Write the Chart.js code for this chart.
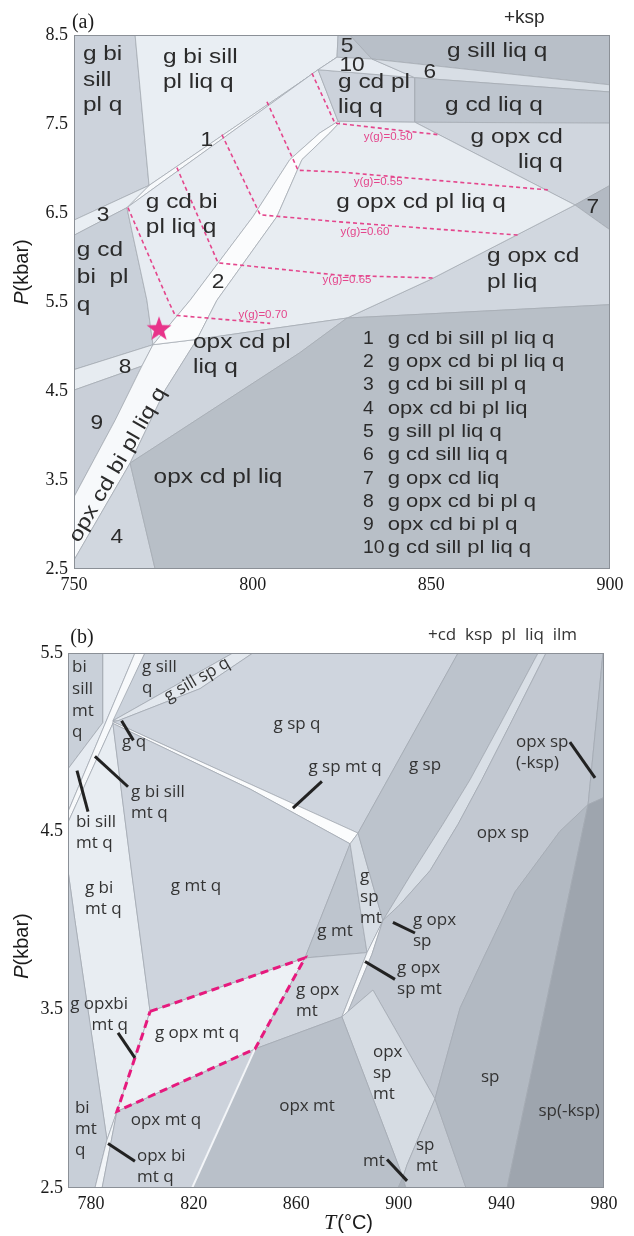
<!DOCTYPE html>
<html lang="en">
<head>
<meta charset="UTF-8">
<title>P-T pseudosections (a) and (b)</title>
<script src="https://cdn.jsdelivr.net/npm/chart.js"></script>
<style>
  html, body { margin: 0; padding: 0; background: #fff; }
  #wrapA { position: absolute; left: 0; top: 0; width: 634px; height: 600px; }
  #wrapB { position: absolute; left: 0; top: 600px; width: 634px; height: 636px; }
</style>
</head>
<body>
<div id="wrapA"><canvas id="chartA" width="634" height="600"></canvas></div>
<div id="wrapB"><canvas id="chartB" width="634" height="636"></canvas></div>
<script>
// ---------- panel (a) : T (C) vs P (kbar) ----------
const aTempTicks = [750, 800, 850, 900];
const aPresTicks = [2.5, 3.5, 4.5, 5.5, 6.5, 7.5, 8.5];

// field outlines, [T, P]
const a_gBiSillPlQ    = [[750,8.5],[767.1,8.5],[771.0,6.81],[750,6.42]];
const a_gBiSillPlLiqQ = [[767.1,8.5],[823.9,8.5],[823.6,8.25],[771.0,6.81]];
const a_f1            = [[764.8,6.56],[771.0,6.81],[823.6,8.25],[818.3,8.11]];
const a_f3            = [[750,6.42],[771.0,6.81],[764.8,6.56],[750,6.25]];
const a_gCdBiPlQ      = [[750,6.25],[764.8,6.56],[770.4,5.52],[772.1,5.02],[750,4.74]];
const a_f8            = [[750,4.74],[772.1,5.02],[769.0,4.78],[750,4.51]];
const a_f9            = [[750,4.51],[769.0,4.78],[761.5,4.17],[750,3.31]];
const a_opxCdBiPlLiqQ = [[772.1,5.02],[784.4,5.08],[775.5,4.51],[765.7,3.69],[750,2.60],[750,3.31],[761.5,4.17],[769.0,4.78]];
const a_f4            = [[750,2.60],[765.7,3.69],[772.7,2.5],[750,2.5]];
const a_gCdBiPlLiqQ   = [[764.8,6.56],[818.3,8.11],[823.9,7.53],[818.8,7.40],[810.4,7.10],[800.1,6.46],[782.5,5.52],[772.1,5.02],[770.4,5.52]];
const a_f2            = [[772.1,5.02],[782.5,5.52],[800.1,6.46],[810.4,7.10],[818.8,7.40],[823.9,7.53],[824.4,7.52],[821.6,7.40],[813.8,7.10],[806.8,6.46],[790.0,5.52],[784.4,5.08]];
const a_gCdPlLiqQ     = [[818.3,8.11],[845.4,8.02],[845.4,7.52],[823.9,7.53]];
const a_f5            = [[823.9,8.5],[827.2,8.5],[833.4,8.23],[823.6,8.25]];
const a_f10           = [[823.6,8.25],[833.4,8.23],[845.4,8.02],[818.3,8.11]];
const a_gSillLiqQ     = [[827.2,8.5],[900,8.5],[900,7.94],[833.4,8.23]];
const a_f6            = [[833.4,8.23],[900,7.94],[900,7.86],[845.4,8.02]];
const a_gCdLiqQ       = [[845.4,8.02],[900,7.86],[900,7.51],[845.4,7.52]];
const a_gOpxCdLiqQ    = [[845.4,7.52],[900,7.51],[900,6.81],[890.2,6.59]];
const a_f7            = [[900,6.81],[890.2,6.59],[900,6.31]];
const a_gOpxCdPlLiq   = [[890.2,6.59],[900,6.31],[900,5.47],[826.4,5.32],[849.6,5.75]];
const a_gOpxCdPlLiqQ  = [[823.9,7.53],[845.4,7.52],[890.2,6.59],[849.6,5.75],[826.4,5.32],[784.4,5.08],[790.0,5.52],[806.8,6.46],[813.8,7.10],[821.6,7.40],[824.4,7.52]];
const a_opxCdPlLiqQ   = [[784.4,5.08],[826.4,5.32],[813.2,4.93],[765.7,3.69],[775.5,4.51]];
const a_opxCdPlLiq    = [[826.4,5.32],[900,5.47],[900,2.5],[772.7,2.5],[765.7,3.69],[813.2,4.93]];

// garnet isopleths y(g)
const aIso50 = [[816.6,8.07],[823.0,7.51],[851.9,7.38]];
const aIso55 = [[804.0,7.75],[812.7,6.98],[824.4,6.96],[882.6,6.76]];
const aIso60 = [[791.4,7.38],[802.1,6.48],[824.4,6.40],[874.8,6.25]];
const aIso65 = [[778.8,7.01],[790.3,5.94],[824.4,5.80],[850.5,5.77]];
const aIso70 = [[765.1,6.56],[776.3,5.52],[778.3,5.35],[804.9,5.26]];
const aStar  = [[773.8,5.21]];

const aIsoLabels = [['y(g)=0.50',837.9,7.35],['y(g)=0.55',835.1,6.84],['y(g)=0.60',831.4,6.28],['y(g)=0.65',826.4,5.75],['y(g)=0.70',802.9,5.35]];
const aLegendText = ['g cd bi sill pl liq q','g opx cd bi pl liq q','g cd bi sill pl q','opx cd bi pl liq','g sill pl liq q',
                     'g cd sill liq q','g opx cd liq','g opx cd bi pl q','opx cd bi pl q','g cd sill pl liq q'];

// ---------- panel (b) ----------
const bTempTicks = [780, 820, 860, 900, 940, 980];
const bPresTicks = [2.5, 3.5, 4.5, 5.5];

const b_biSillMtQ    = [[771,5.5],[784.6,5.5],[784.6,5.11],[771,4.85]];
const b_leftLight    = [[784.6,5.5],[797.1,5.5],[771,4.61],[771,4.85],[784.6,5.11]];
const b_gBiSillMtQ   = [[797.1,5.5],[801.0,5.5],[771,4.55],[771,4.61]];
const b_gSillQ       = [[801.0,5.5],[835.3,5.5],[788.5,5.12]];
const b_gSillSpQ     = [[788.5,5.12],[835.3,5.5],[843.1,5.5],[822.5,5.30],[790.5,5.12]];
const b_gSpQ         = [[790.5,5.12],[822.5,5.30],[843.1,5.5],[923.1,5.5],[884.1,4.49],[842.0,4.765],[788.5,5.115]];
const b_gSpMtQ       = [[788.5,5.115],[842.0,4.765],[884.1,4.49],[881.0,4.43],[842.0,4.737],[788.5,5.105]];
const b_gBiMtQ       = [[788.5,5.105],[796.0,4.25],[803.0,3.49],[797.1,3.23],[790.1,2.93],[786.2,2.77],[773.7,4.00],[771,4.28],[771,4.55]];
const b_gMtQ         = [[788.5,5.105],[842.0,4.737],[881.0,4.43],[863.4,3.79],[803.0,3.49],[796.0,4.25]];
const b_biMtQ        = [[771,4.28],[773.7,4.00],[786.2,2.77],[781.5,2.5],[771,2.5]];
const b_opxBiMtQ     = [[786.2,2.77],[790.1,2.93],[784.3,2.5],[781.5,2.5]];
const b_opxMtQ       = [[790.1,2.93],[843.9,3.28],[819.4,2.5],[784.3,2.5]];
const b_gOpxMtQ      = [[803.0,3.49],[863.4,3.79],[843.9,3.28],[790.1,2.93],[797.1,3.23]];
const b_gMt          = [[881.0,4.43],[887.6,3.82],[863.4,3.79]];
const b_gSpMt        = [[881.0,4.43],[884.1,4.49],[893.8,4.00],[887.6,3.82]];
const b_gOpxMt       = [[863.4,3.79],[887.6,3.82],[877.8,3.46],[843.9,3.28]];
const b_gOpxSpMt     = [[893.8,4.00],[889.5,3.81],[880.2,3.49],[877.8,3.46],[887.6,3.82]];
const b_gSp          = [[923.1,5.5],[954.3,5.5],[939.5,5.10],[927.8,4.79],[917.2,4.54],[904.4,4.25],[893.8,4.00],[884.1,4.49]];
const b_gOpxSp       = [[954.3,5.5],[957.4,5.5],[943.4,5.10],[932.4,4.79],[923.1,4.54],[912.2,4.28],[900.5,4.09],[893.8,4.00],[904.4,4.25],[917.2,4.54],[927.8,4.79],[939.5,5.10]];
const b_opxSp        = [[957.4,5.5],[979.6,5.5],[973.8,4.65],[962.8,4.50],[945.3,4.16],[931.7,3.75],[923.9,3.51],[914.1,3.00],[889.9,3.61],[880.2,3.49],[889.5,3.81],[893.8,4.00],[900.5,4.09],[912.2,4.28],[923.1,4.54],[932.4,4.79],[943.4,5.10]];
const b_opxSpMt      = [[877.8,3.46],[880.2,3.49],[889.9,3.61],[914.1,3.00],[903.2,2.63],[901.6,2.56]];
const b_opxMt        = [[843.9,3.28],[877.8,3.46],[901.6,2.56],[899.7,2.5],[819.4,2.5]];
const b_mt           = [[901.6,2.56],[902.8,2.5],[899.7,2.5]];
const b_spMt         = [[914.1,3.00],[926.2,2.5],[902.8,2.5],[901.6,2.56],[903.2,2.63]];
const b_sp           = [[973.8,4.65],[942.2,2.5],[926.2,2.5],[914.1,3.00],[923.9,3.51],[931.7,3.75],[945.3,4.16],[962.8,4.50]];
const b_opxSpNoKsp   = [[979.6,5.5],[980,5.5],[980,4.69],[973.8,4.65]];
const b_spNoKsp      = [[973.8,4.65],[980,4.69],[980,2.5],[942.2,2.5]];

const bWhiteEdge = [[843.9,3.28],[819.4,2.5]];
const bLeaders = [
  [[791.9,5.12],[796.5,5.01]], [[781.5,4.92],[794.4,4.75]], [[774.5,4.84],[778.8,4.61]],
  [[858.7,4.63],[870.0,4.78]], [[966.7,5.00],[976.5,4.80]], [[897.7,3.99],[906.3,3.93]],
  [[886.8,3.77],[898.5,3.67]], [[790.5,3.37],[797.1,3.23]], [[786.6,2.75],[797.1,2.65]],
  [[895.4,2.66],[903.2,2.54]]
];

// ---------- styling ----------
const aRegions = [
  [a_gBiSillPlQ,'#cdd3dc'],[a_gBiSillPlLiqQ,'#e9eef3'],[a_f1,'#f7f9fb'],[a_f3,'#e9eef3'],
  [a_gCdBiPlQ,'#c9d0d9'],[a_f8,'#e7ecf1'],[a_f9,'#c9cfd8'],[a_opxCdBiPlLiqQ,'#f7f9fb'],
  [a_f4,'#d1d7df'],[a_gCdBiPlLiqQ,'#e7ecf2'],[a_f2,'#fbfcfd'],[a_gCdPlLiqQ,'#ccd2db'],
  [a_f5,'#c2c9d2'],[a_f10,'#e6ebf1'],[a_gSillLiqQ,'#b8bfc8'],[a_f6,'#d8dee5'],
  [a_gCdLiqQ,'#bec5ce'],[a_gOpxCdLiqQ,'#d0d6de'],[a_f7,'#b3bac3'],[a_gOpxCdPlLiq,'#d1d7df'],
  [a_gOpxCdPlLiqQ,'#e8edf2'],[a_opxCdPlLiqQ,'#cfd5dd'],[a_opxCdPlLiq,'#b8bfc7']
];
const bRegions = [
  [b_biSillMtQ,'#c9d0d9'],[b_leftLight,'#e6ebf1'],[b_gBiSillMtQ,'#f7f9fb'],[b_gSillQ,'#ccd3dc'],
  [b_gSillSpQ,'#e3e8ee'],[b_gSpQ,'#cfd5de'],[b_gSpMtQ,'#fbfcfd'],[b_gBiMtQ,'#e8edf2'],
  [b_gMtQ,'#ced4dd'],[b_biMtQ,'#c8cfd8'],[b_opxBiMtQ,'#f2f5f8'],[b_opxMtQ,'#ccd2db'],
  [b_gOpxMtQ,'#edf1f5'],[b_gMt,'#bec5ce'],[b_gSpMt,'#d8dee5'],[b_gOpxMt,'#d0d6de'],
  [b_gOpxSpMt,'#f7f9fb'],[b_gSp,'#bcc3cc'],[b_gOpxSp,'#d9dfe6'],[b_opxSp,'#c2c8d1'],
  [b_opxSpMt,'#d6dce3'],[b_opxMt,'#b9c0c9'],[b_mt,'#aab1ba'],[b_spMt,'#c5cbd3'],
  [b_sp,'#b2b9c2'],[b_opxSpNoKsp,'#b8bfc8'],[b_spNoKsp,'#9ea5ae']
];

const aLabels = [
  {t:'g bi|sill|pl q', x:752.5, y:8.28, al:'left'},
  {t:'g bi sill|pl liq q', x:774.9, y:8.25, al:'left'},
  {t:'g cd bi|pl liq q', x:770.1, y:6.62, al:'left'},
  {t:'g cd|bi  pl|q', x:750.8, y:6.08, al:'left', lh:27.5},
  {t:'g cd pl|liq q', x:823.9, y:7.97, al:'left'},
  {t:'g sill liq q', x:868.4, y:8.31, al:'center'},
  {t:'g cd liq q', x:867.5, y:7.71, al:'center'},
  {t:'g opx cd|liq q', x:886.8, y:7.35, al:'right'},
  {t:'g opx cd pl liq q', x:847.1, y:6.62, al:'center'},
  {t:'g opx cd|pl liq', x:865.6, y:6.01, al:'left'},
  {t:'opx cd pl|liq q', x:783.3, y:5.05, al:'left'},
  {t:'opx cd pl liq', x:790.3, y:3.53, al:'center'},
  {t:'opx cd bi pl liq q', x:762.3, y:3.67, al:'center', rot:-60}
];
const aNumbers = [['1',787.2,7.32],['2',790.3,5.72],['3',758.1,6.47],['4',762.0,2.86],['5',826.4,8.37],
                  ['6',849.6,8.08],['7',895.2,6.57],['8',764.3,4.77],['9',756.4,4.14],['10',827.8,8.16]];

const bLabels = [
  {t:'bi|sill|mt|q', x:772.6, y:5.42, al:'left', lh:21.7},
  {t:'g sill|q', x:799.9, y:5.42, al:'left'},
  {t:'g sill sp q', x:821.3, y:5.35, al:'center', rot:-30},
  {t:'g q', x:792.1, y:5.00, al:'left'},
  {t:'g bi sill|mt q', x:795.6, y:4.72, al:'left'},
  {t:'bi sill|mt q', x:774.1, y:4.55, al:'left'},
  {t:'g sp q', x:860.3, y:5.10, al:'center'},
  {t:'g sp mt q', x:879.0, y:4.86, al:'center'},
  {t:'g sp', x:910.2, y:4.87, al:'center'},
  {t:'opx sp|(-ksp)', x:945.7, y:5.00, al:'left'},
  {t:'opx sp', x:940.6, y:4.49, al:'center'},
  {t:'g mt q', x:820.9, y:4.19, al:'center'},
  {t:'g bi|mt q', x:777.6, y:4.18, al:'left'},
  {t:'g|sp|mt', x:884.9, y:4.25, al:'left'},
  {t:'g mt', x:875.1, y:3.94, al:'center'},
  {t:'g opx|sp', x:905.5, y:4.00, al:'left'},
  {t:'g opx|sp mt', x:899.3, y:3.73, al:'left'},
  {t:'g opx|mt', x:859.9, y:3.61, al:'left'},
  {t:'g opxbi|mt q', x:794.4, y:3.53, al:'right'},
  {t:'g opx mt q', x:821.3, y:3.37, al:'center'},
  {t:'bi|mt|q', x:773.7, y:2.95, al:'left'},
  {t:'opx mt q', x:809.2, y:2.88, al:'center'},
  {t:'opx bi|mt q', x:797.9, y:2.68, al:'left'},
  {t:'opx mt', x:864.2, y:2.96, al:'center'},
  {t:'opx|sp|mt', x:889.9, y:3.26, al:'left'},
  {t:'sp', x:935.6, y:3.12, al:'center'},
  {t:'sp(-ksp)', x:966.4, y:2.93, al:'center'},
  {t:'sp|mt', x:906.7, y:2.74, al:'left'},
  {t:'mt', x:886.0, y:2.65, al:'left'}
];

// ---------- helpers ----------
const pts = arr => arr.map(([x, y]) => ({x, y}));

function regionSet(p, color, edge) {
  return { data: pts(p.concat([p[0]])), showLine: true, fill: 'shape', backgroundColor: color,
           borderColor: edge, borderWidth: 0.8, pointRadius: 0, pointHoverRadius: 0 };
}
function lineSet(p, color, width, dash) {
  return { data: pts(p), showLine: true, fill: false, borderColor: color, borderWidth: width,
           borderDash: dash || [], pointRadius: 0, pointHoverRadius: 0 };
}
function stacked(list) {
  list.forEach((d, i) => { d.order = list.length - i; });  // first item painted first
  return list;
}

function makeStar(size, color) {
  const c = document.createElement('canvas');
  c.width = c.height = size;
  const g = c.getContext('2d');
  const cx = size / 2, cy = size / 2 + size * 0.06, R = size / 2, r = R * 0.4;
  g.beginPath();
  for (let i = 0; i < 10; i++) {
    const ang = -Math.PI / 2 + i * Math.PI / 5, rad = i % 2 ? r : R;
    g.lineTo(cx + rad * Math.cos(ang), cy + rad * Math.sin(ang));
  }
  g.closePath();
  g.fillStyle = color;
  g.fill();
  return c;
}

function stretchText(ctx, str, x, y, align, sx) {
  ctx.save();
  ctx.translate(x, y);
  ctx.scale(sx, 1);
  ctx.textAlign = align;
  ctx.fillText(str, 0, 0);
  ctx.restore();
}

function drawLabels(ctx, chart, labels, font, sx, lh) {
  const xs = chart.scales.x, ys = chart.scales.y;
  ctx.font = font;
  ctx.textBaseline = 'middle';
  labels.forEach(l => {
    const px = xs.getPixelForValue(l.x), py = ys.getPixelForValue(l.y);
    const lines = l.t.split('|');
    if (l.rot) {
      ctx.save();
      ctx.translate(px, py);
      ctx.rotate(l.rot * Math.PI / 180);
      stretchText(ctx, l.t, 0, 0, 'center', sx);
      ctx.restore();
      return;
    }
    lines.forEach((s, i) => stretchText(ctx, s, px, py + i * (l.lh || lh), l.al, sx));
  });
}

function drawPTitle(ctx, cx, cy) {
  ctx.save();
  ctx.translate(cx, cy);
  ctx.rotate(-Math.PI / 2);
  ctx.textBaseline = 'middle';
  ctx.textAlign = 'left';
  ctx.font = 'italic 20px "Liberation Sans"';
  const w1 = ctx.measureText('P').width;
  ctx.font = '20px "Liberation Sans"';
  const w2 = ctx.measureText('(kbar)').width;
  const x0 = -(w1 + w2) / 2;
  ctx.font = 'italic 20px "Liberation Sans"';
  ctx.fillText('P', x0, 0);
  ctx.font = '20px "Liberation Sans"';
  ctx.fillText('(kbar)', x0 + w1, 0);
  ctx.restore();
}

function frame(ctx, a) {
  ctx.strokeStyle = '#8b9097';
  ctx.lineWidth = 1;
  ctx.strokeRect(a.left + 0.5, a.top + 0.5, a.right - a.left - 1, a.bottom - a.top - 1);
}

function baseOptions(c) {
  const tickFont = {family: 'Liberation Serif', size: 18};
  return {
    responsive: false, animation: false, devicePixelRatio: 1, events: [],
    layout: { padding: c.pad },
    plugins: { legend: {display: false}, tooltip: {enabled: false} },
    scales: {
      x: {
        type: 'linear', min: c.xmin, max: c.xmax,
        afterFit: s => { s.height = c.xh; },
        afterBuildTicks: s => { s.ticks = c.xt.map(v => ({value: v})); },
        grid: {display: false, drawTicks: false}, border: {display: false},
        ticks: {color: '#1b1b1b', font: tickFont, padding: 5, maxRotation: 0, autoSkip: false, callback: v => String(v)}
      },
      y: {
        type: 'linear', min: c.ymin, max: c.ymax,
        afterFit: s => { s.width = c.yw; },
        afterBuildTicks: s => { s.ticks = c.yt.map(v => ({value: v})); },
        grid: {display: false, drawTicks: false}, border: {display: false},
        ticks: {color: '#1b1b1b', font: tickFont, padding: 6, autoSkip: false, callback: v => v.toFixed(1)}
      }
    }
  };
}

// ---------- chart (a) ----------
const EDGE_A = '#a6acb4';
const ISO = '#e4468c';
const dsA = stacked([
  ...aRegions.map(([p, c]) => regionSet(p, c, EDGE_A)),
  lineSet(aIso50, ISO, 1.6, [4, 3]),
  lineSet(aIso55, ISO, 1.6, [4, 3]),
  lineSet(aIso60, ISO, 1.6, [4, 3]),
  lineSet(aIso65, ISO, 1.6, [4, 3]),
  lineSet(aIso70, ISO, 1.6, [4, 3]),
  { data: pts(aStar), showLine: false, pointStyle: makeStar(26, '#e8338a'), pointRadius: 13 }
]);

const optsA = baseOptions({pad: {top: 35, right: 24, bottom: 0, left: 0}, xmin: 750, xmax: 900, ymin: 2.5, ymax: 8.5,
                           xt: aTempTicks, yt: aPresTicks, xh: 31, yw: 74});

const annotateA = {
  id: 'annotateA',
  afterDatasetsDraw(chart) {
    const {ctx, chartArea} = chart;
    const xs = chart.scales.x, ys = chart.scales.y;
    ctx.save();
    frame(ctx, chartArea);
    ctx.fillStyle = '#2b2b2b';
    drawLabels(ctx, chart, aLabels, '20px "Liberation Sans"', 1.22, 25.5);
    ctx.font = '21px "Liberation Sans"';
    ctx.textBaseline = 'middle';
    aNumbers.forEach(([s, t, p]) => stretchText(ctx, s, xs.getPixelForValue(t), ys.getPixelForValue(p), 'center', 1.08));
    // numbered key in the lower-right field
    ctx.font = '19px "Liberation Sans"';
    const ky = ys.getPixelForValue(5.09);
    aLegendText.forEach((s, i) => {
      stretchText(ctx, String(i + 1), xs.getPixelForValue(830.9), ky + i * 23.3, 'left', 1.02);
      stretchText(ctx, s, xs.getPixelForValue(837.8), ky + i * 23.3, 'left', 1.16);
    });
    ctx.fillStyle = ISO;
    ctx.font = '10px "Liberation Sans"';
    aIsoLabels.forEach(([s, t, p]) => stretchText(ctx, s, xs.getPixelForValue(t), ys.getPixelForValue(p), 'center', 1.15));
    ctx.fillStyle = '#1b1b1b';
    ctx.font = '20px "Liberation Serif"';
    ctx.textAlign = 'center';
    ctx.fillText('(a)', 83, 23);
    ctx.font = '19px "Liberation Sans"';
    ctx.textAlign = 'left';
    ctx.fillStyle = '#2b2b2b';
    ctx.fillText('+ksp', 504, 18);
    ctx.fillStyle = '#1b1b1b';
    drawPTitle(ctx, 22, 272);
    ctx.restore();
  }
};

new Chart(document.getElementById('chartA'), {
  type: 'scatter', data: {datasets: dsA}, options: optsA, plugins: [annotateA]
});

// ---------- chart (b) ----------
const EDGE_B = '#a3aab2';
const dsB = stacked([
  ...bRegions.map(([p, c]) => regionSet(p, c, EDGE_B)),
  lineSet(bWhiteEdge, '#f3f5f8', 2),
  lineSet(b_gOpxMtQ.concat([b_gOpxMtQ[0]]), '#e6197d', 3, [8, 5]),
  ...bLeaders.map(p => lineSet(p, '#222', 3))
]);

const optsB = baseOptions({pad: {top: 53, right: 30, bottom: 0, left: 0}, xmin: 771, xmax: 980, ymin: 2.5, ymax: 5.5,
                           xt: bTempTicks, yt: bPresTicks, xh: 48, yw: 68});
optsB.scales.y.ticks.padding = 5;

const annotateB = {
  id: 'annotateB',
  afterDatasetsDraw(chart) {
    const {ctx, chartArea} = chart;
    ctx.save();
    frame(ctx, chartArea);
    ctx.fillStyle = '#333';
    drawLabels(ctx, chart, bLabels, '17px "Open Sans"', 1.0, 21);
    ctx.fillStyle = '#1b1b1b';
    ctx.font = '20px "Liberation Serif"';
    ctx.textAlign = 'center';
    ctx.textBaseline = 'middle';
    ctx.fillText('(b)', 82, 38);
    ctx.fillStyle = '#333';
    ctx.font = '17px "Open Sans"';
    ctx.textAlign = 'left';
    ctx.fillText('+cd  ksp  pl  liq  ilm', 428, 35);
    ctx.fillStyle = '#1b1b1b';
    drawPTitle(ctx, 22, 346);
    // T(°C)
    ctx.font = 'italic 22px "Liberation Serif"';
    const w1 = ctx.measureText('T').width;
    ctx.font = '20px "Liberation Sans"';
    const w2 = ctx.measureText('(°C)').width;
    const x0 = 348 - (w1 + w2) / 2;
    ctx.font = 'italic 22px "Liberation Serif"';
    ctx.fillText('T', x0, 623);
    ctx.font = '20px "Liberation Sans"';
    ctx.fillText('(°C)', x0 + w1 + 1, 623);
    ctx.restore();
  }
};

new Chart(document.getElementById('chartB'), {
  type: 'scatter', data: {datasets: dsB}, options: optsB, plugins: [annotateB]
});
</script>
</body>
</html>
